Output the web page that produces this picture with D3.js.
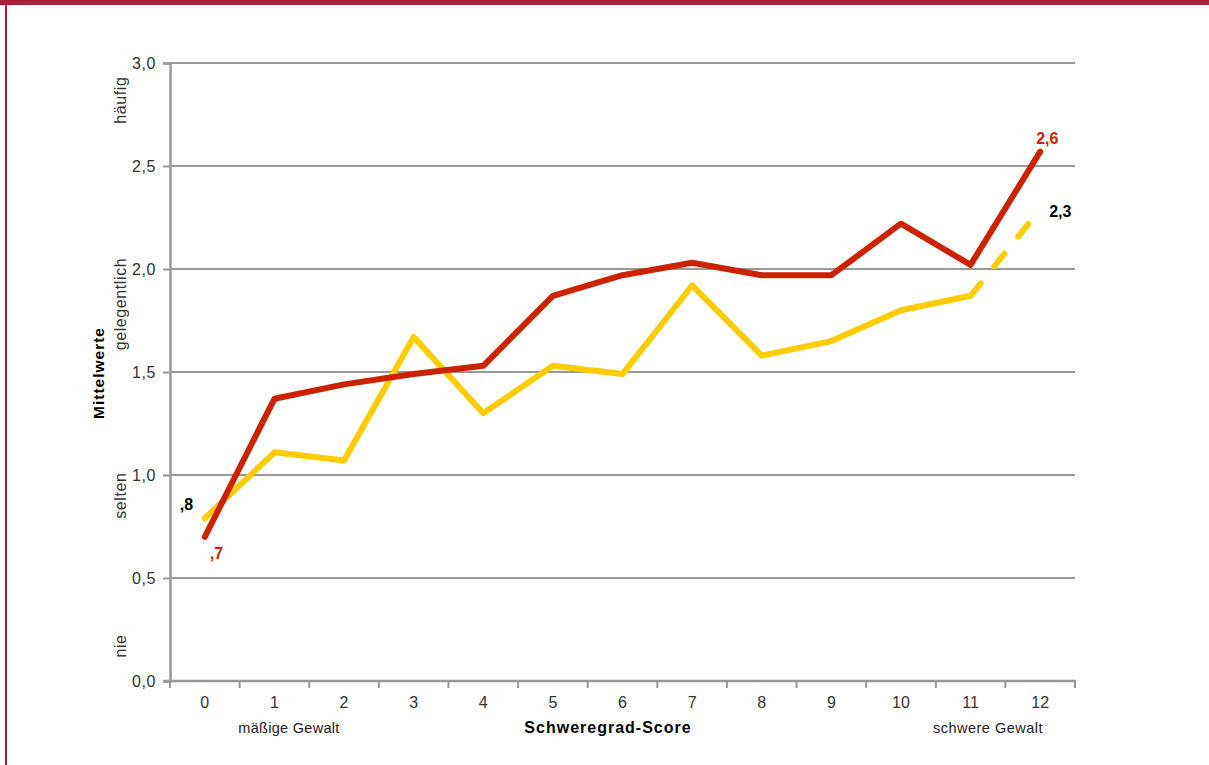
<!DOCTYPE html>
<html><head><meta charset="utf-8">
<script src="https://cdn.jsdelivr.net/npm/d3@7"></script>
<style>body{margin:0;background:#fff;}svg{display:block;font-family:"Liberation Sans",Arial,sans-serif;}</style>
</head><body>
<svg id="c" width="1209" height="765"></svg>
<script>
const categories = ["0","1","2","3","4","5","6","7","8","9","10","11","12"];
const seriesRed = [0.70,1.37,1.44,1.49,1.53,1.87,1.97,2.03,1.97,1.97,2.22,2.02,2.57];
const seriesYellow = [0.79,1.11,1.07,1.67,1.30,1.53,1.49,1.92,1.58,1.65,1.80,1.87,2.29];
const yTicks = [0,0.5,1,1.5,2,2.5,3];
const yTickLabels = ["0,0","0,5","1,0","1,5","2,0","2,5","3,0"];
const scaleWords = [{t:"häufig",v:2.82},{t:"gelegentlich",v:1.83},{t:"selten",v:0.9},{t:"nie",v:0.17}];

const svg = d3.select("#c");
// frame
svg.append("rect").attr("x",0).attr("y",0).attr("width",1209).attr("height",5).attr("fill","#a8203c");
svg.append("rect").attr("x",5).attr("y",0).attr("width",2).attr("height",765).attr("fill","#a8203c");

const x = d3.scaleBand().domain(categories).range([170,1075]);
const y = d3.scaleLinear().domain([0,3]).range([681,63]);
const xc = d => x(d) + x.bandwidth()/2;

// gridlines
svg.append("g").selectAll("line").data(yTicks.filter(d=>d>0)).join("line")
  .attr("x1",170).attr("x2",1075).attr("y1",d=>y(d)).attr("y2",d=>y(d))
  .attr("stroke","#999").attr("stroke-width",2);

// y axis
const yAxis = d3.axisLeft(y).tickValues(yTicks).tickSize(7).tickFormat((d,i)=>yTickLabels[i]);
const gy = svg.append("g").attr("transform","translate(170,0)").call(yAxis);
gy.select(".domain").attr("stroke","#999").attr("stroke-width",2.5);
gy.selectAll(".tick line").attr("stroke","#999").attr("stroke-width",2);
gy.selectAll(".tick text").attr("font-size",16).attr("letter-spacing",0.6).attr("fill","#333").attr("x",-14).attr("font-family","Liberation Sans, Arial, sans-serif");

// x axis
const xAxis = d3.axisBottom(x).tickSize(0);
const gx = svg.append("g").attr("transform","translate(0,681)").call(xAxis);
gx.select(".domain").remove();
gx.selectAll(".tick text").attr("font-size",16).attr("fill","#333").attr("dy","1.5em").attr("font-family","Liberation Sans, Arial, sans-serif");
svg.append("line").attr("x1",163).attr("x2",1076).attr("y1",681).attr("y2",681).attr("stroke","#999").attr("stroke-width",2.5);
const bounds = categories.map(c=>x(c)).concat([x(categories[categories.length-1])+x.bandwidth()]);
svg.append("g").selectAll("line").data(bounds).join("line")
  .attr("x1",d=>d).attr("x2",d=>d).attr("y1",681).attr("y2",688).attr("stroke","#999").attr("stroke-width",2);

// scale words
svg.append("g").selectAll("text").data(scaleWords).join("text")
  .attr("transform",d=>`translate(126,${y(d.v)}) rotate(-90)`)
  .attr("text-anchor","middle").attr("font-size",16).attr("letter-spacing",0.6).attr("fill","#333").text(d=>d.t);
svg.append("text").attr("transform","translate(104,373) rotate(-90)").attr("text-anchor","middle")
  .attr("font-size",15.5).attr("letter-spacing",1).attr("font-weight","bold").attr("fill","#000").text("Mittelwerte");

// x labels
svg.append("text").attr("x",289).attr("y",733).attr("text-anchor","middle").attr("font-size",14.5).attr("letter-spacing",0.3).attr("fill","#222").text("mäßige Gewalt");
svg.append("text").attr("x",608).attr("y",733).attr("text-anchor","middle").attr("font-size",16).attr("letter-spacing",1).attr("font-weight","bold").attr("fill","#000").text("Schweregrad-Score");
svg.append("text").attr("x",988).attr("y",733).attr("text-anchor","middle").attr("font-size",14.5).attr("letter-spacing",0.5).attr("fill","#222").text("schwere Gewalt");

// lines
const line = d3.line().x((d,i)=>xc(categories[i])).y(d=>y(d));
const yData = seriesYellow.map((v,i)=>({v,i}));
const lineObj = d3.line().x(d=>xc(categories[d.i])).y(d=>y(d.v));
svg.append("path").datum(yData.slice(0,12)).attr("d",lineObj).attr("fill","none")
  .attr("stroke","#ffcc00").attr("stroke-width",6).attr("stroke-linecap","round").attr("stroke-linejoin","round");
svg.append("path").datum(yData.slice(11,13)).attr("d",lineObj).attr("fill","none")
  .attr("stroke","#ffcc00").attr("stroke-width",6).attr("stroke-linecap","round").attr("stroke-dasharray","16,22");
svg.append("path").datum(seriesRed).attr("d",line).attr("fill","none")
  .attr("stroke","#cc2200").attr("stroke-width",6).attr("stroke-linecap","round").attr("stroke-linejoin","round");

// data labels
const lbl = (tx,xx,yy,col)=>svg.append("text").attr("x",xx).attr("y",yy).attr("font-size",16).attr("font-weight","bold").attr("fill",col).text(tx);
lbl(",8", xc("0")-25, y(seriesYellow[0])-8, "#000");
lbl(",7", xc("0")+5, y(seriesRed[0])+22, "#cc2200");
lbl("2,6", xc("12")-4, y(seriesRed[12])-8, "#cc2200");
lbl("2,3", xc("12")+9, y(seriesYellow[12])+8, "#000");
</script>
</body></html>
